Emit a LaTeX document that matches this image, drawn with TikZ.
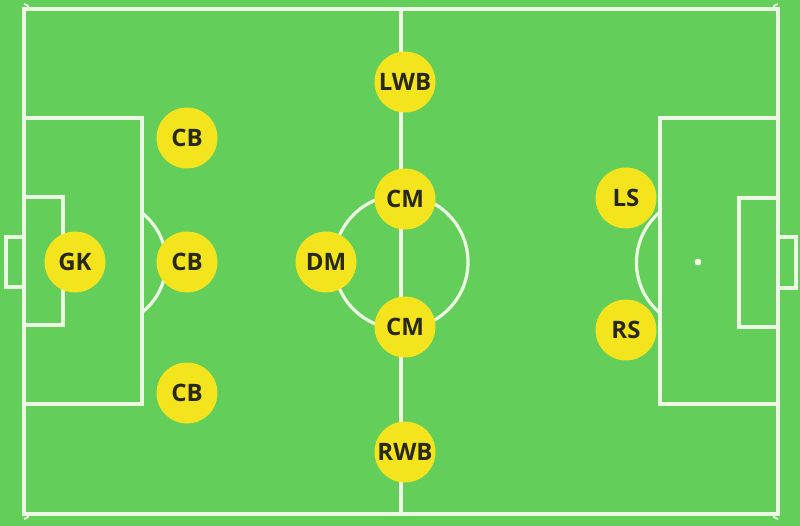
\documentclass[tikz,border=0pt]{standalone}
\usepackage{fontspec}
\setmainfont{Open Sans}
\definecolor{pitch}{RGB}{99,207,90}
\definecolor{chalk}{RGB}{236,250,228}
\definecolor{shirt}{RGB}{243,228,30}
\definecolor{ink}{RGB}{40,40,22}
\tikzset{
  pline/.style={draw=chalk, line width=3.2pt},
  player/.style={circle, fill=shirt, minimum size=61pt, inner sep=0pt,
    text=ink, font=\bfseries\fontsize{24}{24}\selectfont}
}
\begin{document}
\begin{tikzpicture}[x=1pt,y=-1pt]
\fill[pitch] (0,0) rectangle (800,526);
\useasboundingbox (0,0) rectangle (800,526);
% outer lines
\draw[pline] (24,9) rectangle (778,514);
\draw[pline] (401,9) -- (401,514);
\draw[pline] (401,262) circle[radius=67];
% corner arcs
\draw[pline, line width=1.8pt] (29,9) arc[start angle=0, end angle=-90, radius=5];
\draw[pline, line width=1.8pt] (773,9) arc[start angle=180, end angle=270, radius=5];
\draw[pline, line width=1.8pt] (29,514) arc[start angle=0, end angle=90, radius=5];
\draw[pline, line width=1.8pt] (773,514) arc[start angle=180, end angle=90, radius=5];
% left side
\draw[pline] (24,118) -- (142,118) -- (142,404) -- (24,404);
\draw[pline] (24,197) -- (63,197) -- (63,325) -- (24,325);
\draw[pline] (24,237) -- (6,237) -- (6,287) -- (24,287);
\draw[pline] (142,213) arc[start angle=-52, end angle=52, radius=63];
% right side
\draw[pline] (778,118) -- (660,118) -- (660,404) -- (778,404);
\draw[pline] (778,198) -- (739,198) -- (739,327) -- (778,327);
\draw[pline] (778,237) -- (796,237) -- (796,288) -- (778,288);
\draw[pline] (660,212) arc[start angle=230, end angle=130, radius=66];
\fill[chalk] (698,262) circle[radius=3.4];
% players
\node[player] (gk)  at (75,262)  {GK};
\node[player] (cb1) at (187,138) {CB};
\node[player] (cb2) at (187,262) {CB};
\node[player] (cb3) at (187,393) {CB};
\node[player] (dm)  at (326,262) {DM};
\node[player] (cm1) at (405,199) {CM};
\node[player] (cm2) at (405,327) {CM};
\node[player] (lwb) at (405,82)  {LWB};
\node[player] (rwb) at (405,452) {RWB};
\node[player] (ls)  at (626,198) {LS};
\node[player] (rs)  at (626,330) {RS};
\end{tikzpicture}
\end{document}
